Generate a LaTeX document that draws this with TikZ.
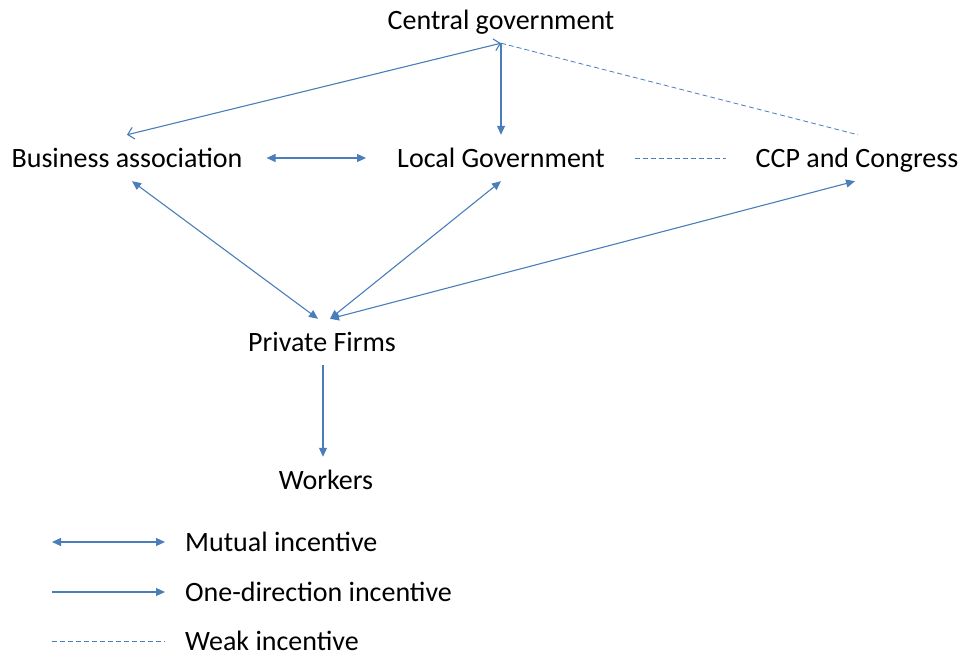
\documentclass[tikz,border=0pt]{standalone}
\usepackage{fontspec}
\setmainfont{Carlito}
\usetikzlibrary{arrows.meta}
\definecolor{linkblue}{HTML}{4A7EBB}
\tikzset{
    actor/.style={font=\fontsize{28}{33}\selectfont, inner xsep=0pt, inner ysep=10.5pt,
        text height=22pt, text depth=3pt},
    legendtext/.style={actor, anchor=west},
    link/.style={linkblue, line width=1.1pt},
    mutual/.style={link, {Triangle[length=9pt,width=8pt]}-{Triangle[length=9pt,width=8pt]}},
    onedir/.style={link, -{Triangle[length=9pt,width=8pt]}},
    openmutual/.style={link, {Straight Barb[length=6pt,width=12pt]}-{Straight Barb[length=6pt,width=12pt]}},
    weak/.style={link, line width=0.8pt, dash pattern=on 5pt off 3pt},
}
\begin{document}
\begin{tikzpicture}[x=1pt, y=-1pt]
    \useasboundingbox (0,0) rectangle (964,658);
    % actors
    \node[actor] (cg) at (501,20) {Central government};
    \node[actor] (ba) at (127,158) {Business association};
    \node[actor] (lg) at (501,158) {Local Government};
    \node[actor] (ccp) at (857,158) {CCP and Congress};
    \node[actor] (pf) at (322,342) {Private Firms};
    \node[actor] (wk) at (326,480) {Workers};
    % incentives between them
    \draw[openmutual] (cg.south) -- (ba.north);
    \draw[onedir] (cg.south) -- (lg.north);
    \draw[weak] (cg.south) -- ([xshift=1pt]ccp.north);
    \draw[mutual] ([xshift=24pt]ba.east) -- ([xshift=-31pt]lg.west);
    \draw[weak] ([xshift=30pt]lg.east) -- ([xshift=-29pt]ccp.west);
    \draw[mutual] ([xshift=5pt]ba.south) -- ([xshift=-4pt]pf.north);
    \draw[mutual] (lg.south) -- ([xshift=8pt]pf.north);
    \draw[mutual] ([xshift=-2pt]ccp.south) -- ([xshift=8pt]pf.north);
    \draw[onedir] ([xshift=1pt]pf.south) -- ([xshift=1pt]pf.south |- wk.north);
    % legend
    \node[legendtext] (l1) at (185,542) {Mutual incentive};
    \node[legendtext] (l2) at (185,592) {One-direction incentive};
    \node[legendtext] (l3) at (185,641) {Weak incentive};
    \draw[mutual] ([xshift=-133pt]l1.west) -- ([xshift=-20pt]l1.west);
    \draw[onedir] ([xshift=-133pt]l2.west) -- ([xshift=-20pt]l2.west);
    \draw[weak] ([xshift=-133pt]l3.west) -- ([xshift=-20pt]l3.west);
\end{tikzpicture}
\end{document}
